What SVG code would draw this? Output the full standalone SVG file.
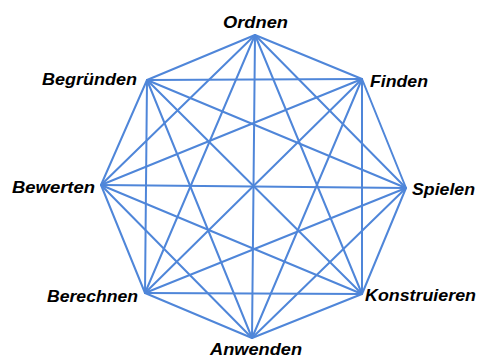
<svg xmlns="http://www.w3.org/2000/svg" width="477" height="358" viewBox="0 0 477 358">
<style>
.e{stroke:#4f86d9;stroke-width:2;fill:none;stroke-linecap:round}
.t{font-family:"Liberation Sans",Arial,sans-serif;font-weight:bold;font-style:italic;font-size:17px;fill:#000}
</style>
<rect width="477" height="358" fill="#fff"/>
<g id="connectors" class="e">
<line x1="255" y1="35" x2="362" y2="79"/>
<line x1="255" y1="35" x2="406" y2="188"/>
<line x1="255" y1="35" x2="362" y2="294"/>
<line x1="255" y1="35" x2="252" y2="338"/>
<line x1="255" y1="35" x2="145" y2="293"/>
<line x1="255" y1="35" x2="101" y2="185"/>
<line x1="255" y1="35" x2="147" y2="80"/>
<line x1="362" y1="79" x2="406" y2="188"/>
<line x1="362" y1="79" x2="362" y2="294"/>
<line x1="362" y1="79" x2="252" y2="338"/>
<line x1="362" y1="79" x2="145" y2="293"/>
<line x1="362" y1="79" x2="101" y2="185"/>
<line x1="362" y1="79" x2="147" y2="80"/>
<line x1="406" y1="188" x2="362" y2="294"/>
<line x1="406" y1="188" x2="252" y2="338"/>
<line x1="406" y1="188" x2="145" y2="293"/>
<line x1="406" y1="188" x2="101" y2="185"/>
<line x1="406" y1="188" x2="147" y2="80"/>
<line x1="362" y1="294" x2="252" y2="338"/>
<line x1="362" y1="294" x2="145" y2="293"/>
<line x1="362" y1="294" x2="101" y2="185"/>
<line x1="362" y1="294" x2="147" y2="80"/>
<line x1="252" y1="338" x2="145" y2="293"/>
<line x1="252" y1="338" x2="101" y2="185"/>
<line x1="252" y1="338" x2="147" y2="80"/>
<line x1="145" y1="293" x2="101" y2="185"/>
<line x1="145" y1="293" x2="147" y2="80"/>
<line x1="101" y1="185" x2="147" y2="80"/>
</g>
<g id="ordnen"><text class="t" x="223" y="28" textLength="65" lengthAdjust="spacingAndGlyphs">Ordnen</text></g>
<g id="finden"><text class="t" x="370" y="87" textLength="58" lengthAdjust="spacingAndGlyphs">Finden</text></g>
<g id="spielen"><text class="t" x="412" y="195" textLength="63" lengthAdjust="spacingAndGlyphs">Spielen</text></g>
<g id="konstruieren"><text class="t" x="365" y="301" textLength="111" lengthAdjust="spacingAndGlyphs">Konstruieren</text></g>
<g id="anwenden"><text class="t" x="210" y="355" textLength="92" lengthAdjust="spacingAndGlyphs">Anwenden</text></g>
<g id="berechnen"><text class="t" x="47" y="302" textLength="91" lengthAdjust="spacingAndGlyphs">Berechnen</text></g>
<g id="bewerten"><text class="t" x="12" y="193" textLength="83" lengthAdjust="spacingAndGlyphs">Bewerten</text></g>
<g id="begruenden"><text class="t" x="42" y="85" textLength="95" lengthAdjust="spacingAndGlyphs">Begründen</text></g>
</svg>
